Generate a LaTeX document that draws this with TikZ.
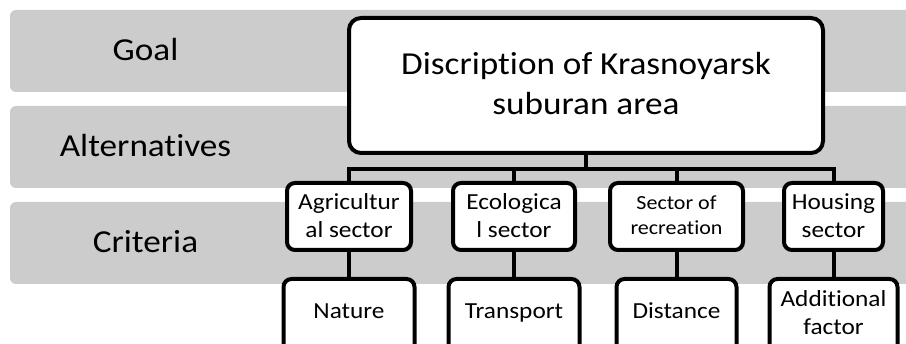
\documentclass[tikz,border=0pt]{standalone}
\usepackage{fontspec}
\setmainfont{Carlito}[Ligatures={NoCommon,NoContextual}]
\usepackage{graphicx}
\definecolor{bandgray}{RGB}{204,204,204}
\newcommand\sx[1]{\scalebox{1.1}[1]{\begin{tabular}[t]{@{}c@{}}#1\end{tabular}}}
\tikzset{
  band/.style={fill=bandgray, rounded corners=6pt},
  lbl/.style={font=\fontsize{32}{40}\selectfont, anchor=base, inner sep=0pt},
  box/.style={draw=black, line width=4pt, fill=white, inner sep=0pt, rounded corners=8pt},
  mainbox/.style={box, rounded corners=12pt, minimum width=474pt, text height=57pt, text depth=78pt, font=\fontsize{32}{40}\selectfont},
  secbox/.style={box, text height=27pt, text depth=40pt, font=\fontsize{23}{28}\selectfont},
  botbox/.style={box, text height=40pt, text depth=61pt, font=\fontsize{23}{28}\selectfont},
  wire/.style={line width=4pt, draw=black}
}
\begin{document}
\begin{tikzpicture}[x=1pt,y=-1pt]
\useasboundingbox (0,0) rectangle (906,344);
\clip (0,0) rectangle (906,344);
% bands
\fill[band] (10,10) rectangle (930,92);
\fill[band] (10,106) rectangle (930,188);
\fill[band] (10,202) rectangle (930,284);
\node[lbl] (goal) at (145.5,61) {\scalebox{1.1}[1]{Goal}};
\node[lbl] (alt) at (145.5,157) {\scalebox{1.1}[1]{Alternatives}};
\node[lbl] (cri) at (145.5,253) {\scalebox{1.1}[1]{Criteria}};
% main box
\node[mainbox] (main) at (586,85.5) {\sx{Discription of Krasnoyarsk\\suburan area}};
% sector boxes
\node[secbox, minimum width=124pt] (agr) at (349,216.5) {\sx{Agricultur\\al sector}};
\node[secbox, minimum width=122pt] (eco) at (514,216.5) {\sx{Ecologica\\l sector}};
\node[secbox, minimum width=133pt, font=\fontsize{20}{25}\selectfont] (rec) at (676.5,216.5) {\sx{Sector of\\recreation}};
\node[secbox, minimum width=99pt] (hou) at (833.5,216.5) {\sx{Housing\\sector}};
% bottom boxes
\node[botbox, minimum width=131pt] (nat) at (349,329.5) {\sx{Nature}};
\node[botbox, minimum width=131pt] (tra) at (514,329.5) {\sx{Transport}};
\node[botbox, minimum width=120pt] (dis) at (676.5,329.5) {\sx{Distance}};
\node[botbox, minimum width=128pt, text height=28pt, text depth=73pt] (add) at (833.5,329.5) {\sx{Additional\\factor}};
% connectors
\coordinate (j) at (586,169.5);
\draw[wire] (main.south) -- (j);
\draw[wire] (j) -| (agr.north);
\draw[wire] (j) -| (eco.north);
\draw[wire] (j) -| (rec.north);
\draw[wire] (j) -| (hou.north);
\draw[wire] (agr.south) -- (nat.north);
\draw[wire] (eco.south) -- (tra.north);
\draw[wire] (rec.south) -- (dis.north);
\draw[wire] (hou.south) -- (add.north);
\end{tikzpicture}
\end{document}
